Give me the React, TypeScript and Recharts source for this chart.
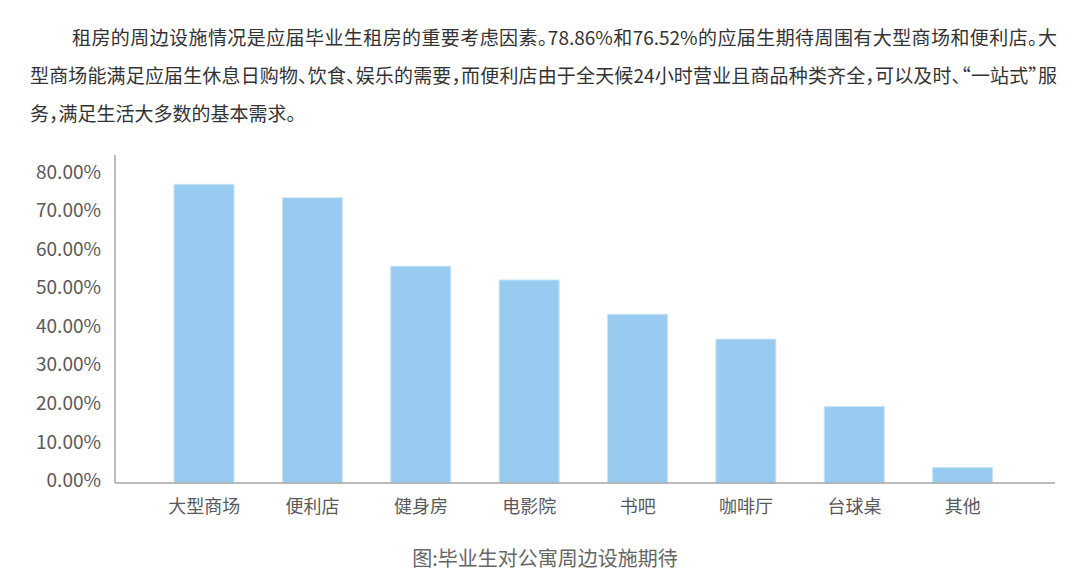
import * as React from "react";
import { BarChart, Bar, XAxis, YAxis } from "recharts";

const categories = ["大型商场", "便利店", "健身房", "电影院", "书吧", "咖啡厅", "台球桌", "其他"];
const shares = [77.4, 73.9, 56.2, 52.6, 43.7, 37.3, 19.8, 4.0];
const yTicks = [0, 10, 20, 30, 40, 50, 60, 70, 80];

const introLines = [
  "租房的周边设施情况是应届毕业生租房的重要考虑因素。78.86%和76.52%的应届生期待周围有大型商场和便利店。大",
  "型商场能满足应届生休息日购物、饮食、娱乐的需要，而便利店由于全天候24小时营业且商品种类齐全，可以及时、“一站式”服",
  "务，满足生活大多数的基本需求。",
];
const caption = "图:毕业生对公寓周边设施期待";

const data = categories.map((name, i) => ({ name, value: shares[i] }));

const font = '"Noto Sans CJK SC", "Noto Sans", sans-serif';
const axisColor = "#a6a6a6";
const labelColor = "#595959";

export default function App() {
  const lineStyle = (i: number): React.CSSProperties => ({
    position: "absolute",
    left: i === 0 ? 72 : 30,
    top: [37, 75, 113][i] - 14,
    width: i === 0 ? 985 : 1027,
    height: 28,
    lineHeight: "28px",
    fontSize: 19,
    color: "#333333",
    fontFamily: font,
    fontFeatureSettings: '"halt"',
    whiteSpace: "nowrap",
    textAlign: i < 2 ? "justify" : "left",
    textAlignLast: i < 2 ? "justify" : "left",
  });

  return (
    <div
      style={{
        position: "absolute",
        left: 0,
        top: 0,
        width: 1080,
        height: 588,
        background: "#ffffff",
        overflow: "hidden",
        fontFamily: font,
      }}
    >
      {introLines.map((t, i) => (
        <div key={i} style={lineStyle(i)}>
          {t}
        </div>
      ))}

      <div style={{ position: "absolute", left: 0, top: 0 }}>
        <BarChart
          width={1080}
          height={588}
          data={data}
          margin={{ top: 155, right: 25, bottom: 65, left: 0 }}
        >
          <XAxis
            dataKey="name"
            height={40}
            interval={0}
            padding={{ left: 35, right: 38 }}
            tickLine={false}
            tickSize={6}
            tickMargin={11}
            axisLine={{ stroke: axisColor, strokeWidth: 1.5 }}
            tick={{ fill: labelColor, fontSize: 18, fontFamily: font }}
          />
          <YAxis
            width={115}
            domain={[0, 85]}
            ticks={yTicks}
            tickFormatter={(v: number) => `${v.toFixed(2)}%`}
            tickLine={false}
            tickSize={6}
            tickMargin={8}
            axisLine={{ stroke: axisColor, strokeWidth: 1.5 }}
            tick={{ fill: labelColor, fontSize: 19, fontFamily: font, dy: -2.5 }}
          />
          <Bar
            dataKey="value"
            barSize={60}
            fill="#98cbef"
            stroke="#c6e3f7"
            strokeWidth={1}
            isAnimationActive={false}
          />
        </BarChart>
      </div>

      <div
        style={{
          position: "absolute",
          left: 345,
          width: 400,
          top: 544,
          height: 28,
          lineHeight: "28px",
          textAlign: "center",
          fontSize: 20,
          color: "#666666",
          fontFamily: font,
        }}
      >
        {caption}
      </div>
    </div>
  );
}
